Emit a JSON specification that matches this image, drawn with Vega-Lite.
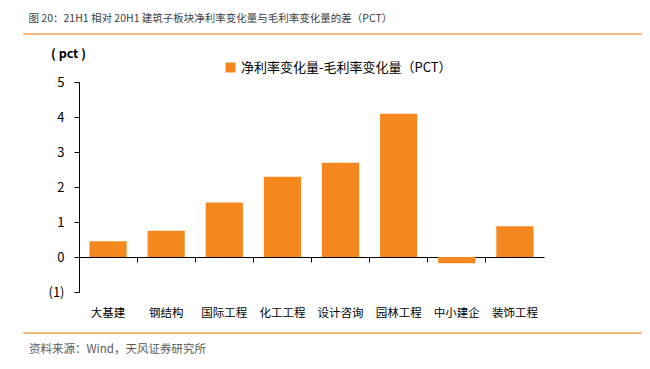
{
  "$schema": "https://vega.github.io/schema/vega-lite/v6.json",
  "background": "white",
  "padding": {"left": 22, "top": 14, "right": 10, "bottom": 4},
  "title": {
    "text": "图 20：21H1 相对 20H1 建筑子板块净利率变化量与毛利率变化量的差（PCT）",
    "anchor": "start",
    "frame": "bounds",
    "dx": 6,
    "offset": 8,
    "font": "Noto Sans CJK SC",
    "fontSize": 10.5,
    "fontWeight": "normal",
    "color": "#404040"
  },
  "config": {
    "font": "Noto Sans CJK SC",
    "view": {"stroke": null}
  },
  "spacing": 12,
  "resolve": {"legend": {"color": "independent"}},
  "vconcat": [
    {
      "data": {"values": []},
      "mark": "point",
      "width": 618,
      "height": 1,
      "view": {"stroke": "#F9B67C", "strokeWidth": 1}
    },
    {
      "spacing": 0,
      "resolve": {"legend": {"color": "independent"}},
      "hconcat": [
        {
          "data": {"values": []},
          "mark": "point",
          "width": 1,
          "height": 210
        },
        {
          "data": {"values": [
            {"sector": "大基建", "value": 0.45, "series": "净利率变化量-毛利率变化量（PCT）"},
            {"sector": "钢结构", "value": 0.75, "series": "净利率变化量-毛利率变化量（PCT）"},
            {"sector": "国际工程", "value": 1.56, "series": "净利率变化量-毛利率变化量（PCT）"},
            {"sector": "化工工程", "value": 2.29, "series": "净利率变化量-毛利率变化量（PCT）"},
            {"sector": "设计咨询", "value": 2.69, "series": "净利率变化量-毛利率变化量（PCT）"},
            {"sector": "园林工程", "value": 4.09, "series": "净利率变化量-毛利率变化量（PCT）"},
            {"sector": "中小建企", "value": -0.18, "series": "净利率变化量-毛利率变化量（PCT）"},
            {"sector": "装饰工程", "value": 0.88, "series": "净利率变化量-毛利率变化量（PCT）"}
          ]},
          "width": 465,
          "height": 210,
          "mark": {"type": "bar", "width": {"band": 0.64}},
          "encoding": {
            "x": {
              "field": "sector",
              "type": "nominal",
              "sort": null,
              "scale": {"paddingInner": 0, "paddingOuter": 0},
              "axis": {
                "title": null,
                "offset": -35,
                "bandPosition": 0,
                "labelAngle": 0,
                "labelFontSize": 11.5,
                "labelColor": "#000000",
                "labelPadding": 45,
                "tickSize": 5,
                "tickColor": "#000000",
                "domainColor": "#000000",
                "grid": false
              }
            },
            "y": {
              "field": "value",
              "type": "quantitative",
              "scale": {"domain": [-1, 5], "nice": false},
              "axis": {
                "values": [-1, 0, 1, 2, 3, 4, 5],
                "labelExpr": "datum.value < 0 ? '(' + abs(datum.value) + ')' : datum.label",
                "labelFontSize": 13,
                "labelColor": "#000000",
                "labelPadding": 10,
                "tickSize": 5,
                "tickColor": "#000000",
                "domainColor": "#000000",
                "grid": false,
                "minExtent": 55,
                "title": "( pct )",
                "titleAngle": 0,
                "titleX": -11,
                "titleY": -29,
                "titleAlign": "center",
                "titleBaseline": "middle",
                "titleFontSize": 12.5,
                "titleFontWeight": "bold",
                "titleColor": "#000000"
              }
            },
            "color": {
              "field": "series",
              "type": "nominal",
              "scale": {"range": ["#F5871F"]},
              "legend": {
                "title": null,
                "orient": "none",
                "legendX": 145,
                "legendY": -21,
                "symbolType": "square",
                "symbolSize": 100,
                "symbolStrokeWidth": 0,
                "labelFontSize": 13,
                "labelColor": "#000000",
                "labelOffset": 4,
                "labelLimit": 400
              }
            }
          }
        }
      ]
    },
    {
      "data": {"values": []},
      "mark": "point",
      "width": 618,
      "height": 1,
      "view": {"stroke": "#F9B67C", "strokeWidth": 1},
      "title": {
        "text": "资料来源：Wind，天风证券研究所",
        "orient": "bottom",
        "anchor": "start",
        "dx": 6,
        "offset": 11,
        "fontSize": 11.5,
        "fontWeight": "normal",
        "color": "#595959"
      }
    }
  ]
}
